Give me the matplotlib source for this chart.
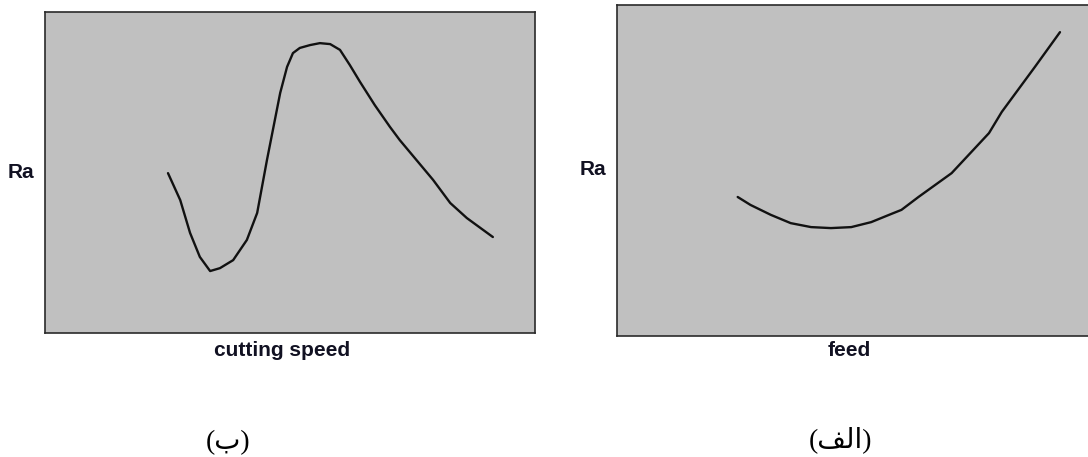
import matplotlib
matplotlib.use("Agg")
import matplotlib.pyplot as plt

# left panel: Ra vs cutting speed (arbitrary units, 0-100)
speed_x = [25.1, 27.6, 29.6, 31.6, 33.7, 35.7, 38.4, 41.2, 43.3, 45.3, 48.0, 49.4,
           50.6, 52.0, 54.1, 56.1, 58.2, 60.2, 62.2, 64.3, 67.3, 70.4, 72.4, 79.2,
           82.7, 86.1, 91.4]
speed_ra = [49.8, 41.4, 31.2, 23.7, 19.3, 20.2, 22.7, 29.0, 37.4, 53.9, 74.8, 82.9,
            87.2, 88.8, 89.7, 90.3, 90.0, 88.2, 83.5, 78.2, 71.0, 64.2, 60.1, 47.7,
            40.5, 35.8, 29.9]

# right panel: Ra vs feed
feed_x = [25.5, 28.2, 32.5, 36.7, 41.0, 45.2, 49.5, 53.7, 58.0, 60.1, 63.7, 70.7,
          78.6, 81.3, 88.3, 93.6]
feed_ra = [42.0, 39.6, 36.6, 34.1, 32.9, 32.6, 32.9, 34.4, 36.9, 38.1, 42.0, 49.2,
           61.3, 67.7, 81.3, 91.8]

x_labels = ["cutting speed", "feed"]
y_label = "Ra"
captions = ["(\u0628)", "(\ufed2\ufedf\u0627)"]  # (ب) and (الف) in display order

W, H = 1088, 457
fig = plt.figure(figsize=(W / 100, H / 100), dpi=100)

ax1 = fig.add_axes([45 / W, 1 - 333 / H, 490 / W, 321 / H])
ax2 = fig.add_axes([617 / W, 1 - 336 / H, 0.435, 331 / H])

for ax, xs, ys in [(ax1, speed_x, speed_ra), (ax2, feed_x, feed_ra)]:
    ax.set_facecolor("#c0c0c0")
    ax.plot(xs, ys, color="#111111", lw=1.7, solid_joinstyle="round",
            solid_capstyle="round")
    ax.set_xlim(0, 100)
    ax.set_ylim(0, 100)
    ax.set_xticks([])
    ax.set_yticks([])
    for sp in ax.spines.values():
        sp.set_color("#2a2a2a")
        sp.set_linewidth(1.2)
ax2.spines["right"].set_visible(False)

lab = dict(family="Liberation Sans", fontweight="bold", fontsize=15, color="#111122")
fig.text(21 / W, 1 - 173 / H, y_label, ha="center", va="center", **lab)
fig.text(593 / W, 1 - 170 / H, y_label, ha="center", va="center", **lab)
fig.text(282 / W, 1 - 350 / H, x_labels[0], ha="center", va="center", **lab)
fig.text(849 / W, 1 - 350 / H, x_labels[1], ha="center", va="center", **lab)

cap = dict(family=["Liberation Serif", "DejaVu Sans"], fontsize=20, color="black")
fig.text(228 / W, 1 - 443 / H, captions[0], ha="center", va="center", **cap)
fig.text(840 / W, 1 - 440 / H, captions[1], ha="center", va="center", **cap)

fig.savefig("out.png", dpi=100)
